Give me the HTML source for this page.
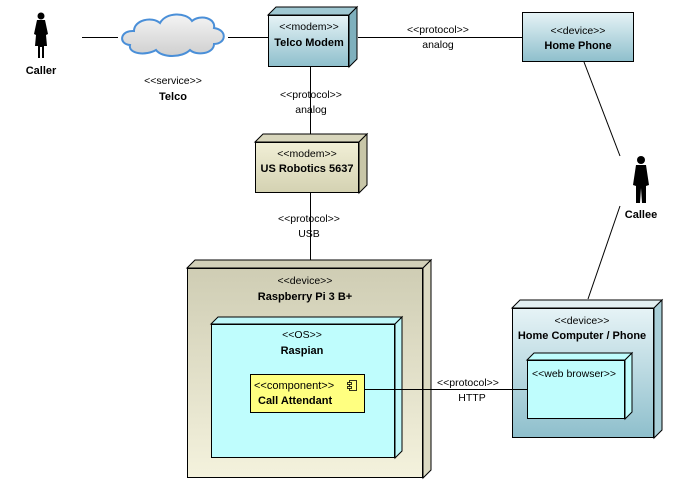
<!DOCTYPE html>
<html><head><meta charset="utf-8"><style>
html,body{margin:0;padding:0;background:#fff;}
svg{display:block;}
text{font-family:"Liberation Sans",Arial,sans-serif;font-size:10.5px;fill:#000;}
.b{font-weight:bold;font-size:11px;}
</style></head><body>
<svg width="686" height="482" viewBox="0 0 686 482" xmlns="http://www.w3.org/2000/svg">
<defs>
<linearGradient id="gBlue" x1="0" y1="0" x2="0" y2="1"><stop offset="0" stop-color="#e6f3f6"/><stop offset="1" stop-color="#8ebfcc"/></linearGradient>
<linearGradient id="gTan" x1="0" y1="0" x2="0" y2="1"><stop offset="0" stop-color="#cfcdb4"/><stop offset="1" stop-color="#f4f2dd"/></linearGradient>
<linearGradient id="gTan2" x1="0" y1="0" x2="0" y2="1"><stop offset="0" stop-color="#f1efd6"/><stop offset="1" stop-color="#d4d2b2"/></linearGradient>
<linearGradient id="gCloud" x1="0" y1="0" x2="0" y2="1"><stop offset="0" stop-color="#f4f4f4"/><stop offset="1" stop-color="#cfcfcf"/></linearGradient>
</defs>
<g stroke="#000" stroke-width="1" fill="none">
<line x1="82" y1="37.5" x2="118" y2="37.5"/>
<line x1="228" y1="37.5" x2="268" y2="37.5"/>
<line x1="358" y1="37.5" x2="522" y2="37.5"/>
<line x1="310.5" y1="67" x2="310.5" y2="141"/>
<line x1="310.5" y1="193" x2="310.5" y2="260"/>
<line x1="584" y1="62" x2="620" y2="156"/>
<line x1="620" y1="206" x2="588" y2="299"/>
</g>
<path d="M130,45 C118,44 120,30 134,31 C134,20 152,16 160,23 C166,12 186,12 192,21 C200,14 216,18 214,28 C228,30 226,44 214,44 C214,54 196,56 190,50 C182,58 162,58 156,50 C146,56 128,54 130,45 Z" fill="url(#gCloud)" stroke="#4a8fd8" stroke-width="2"/>
<text x="173" y="84" text-anchor="middle">&lt;&lt;service&gt;&gt;</text>
<text x="173" y="100" text-anchor="middle" class="b">Telco</text>
<g fill="#000">
<circle cx="41" cy="16" r="3.5"/>
<path d="M37,20 L45,20 L48,34 L46,35 L47,46 L44,46 L44,58 L42,58 L42,47 L40,47 L40,58 L38,58 L38,46 L35,46 L36,35 L34,34 Z"/>
</g>
<text x="41" y="74" text-anchor="middle" class="b">Caller</text>
<g fill="#000">
<circle cx="641" cy="160" r="4"/>
<path d="M636,165 L646,165 L649,185 L646,186 L646,203 L642,203 L641,188 L640,203 L636,203 L636,186 L633,185 Z"/>
</g>
<text x="641" y="218" text-anchor="middle" class="b">Callee</text>
<path d="M268,15 L276,7 L357,7 L349,15 Z" fill="#9fc8d2" stroke="#000"/>
<path d="M349,15 L357,7 L357,59 L349,67 Z" fill="#7fb0bd" stroke="#000"/>
<rect x="268.5" y="15.5" width="80" height="51" fill="url(#gBlue)" stroke="#000"/>
<text x="309" y="30" text-anchor="middle">&lt;&lt;modem&gt;&gt;</text>
<text x="309" y="46" text-anchor="middle" class="b">Telco Modem</text>
<text x="438" y="33" text-anchor="middle">&lt;&lt;protocol&gt;&gt;</text>
<text x="438" y="48" text-anchor="middle">analog</text>
<rect x="522.5" y="12.5" width="111" height="49" fill="url(#gBlue)" stroke="#000"/>
<text x="578" y="34" text-anchor="middle">&lt;&lt;device&gt;&gt;</text>
<text x="578" y="49" text-anchor="middle" class="b">Home Phone</text>
<text x="311" y="98" text-anchor="middle">&lt;&lt;protocol&gt;&gt;</text>
<text x="311" y="113" text-anchor="middle">analog</text>
<path d="M255,142 L263,134 L367,134 L359,142 Z" fill="#d8d6bc" stroke="#000"/>
<path d="M359,142 L367,134 L367,185 L359,193 Z" fill="#c8c6a8" stroke="#000"/>
<rect x="255.5" y="142.5" width="103" height="50" fill="url(#gTan2)" stroke="#000"/>
<text x="307" y="157" text-anchor="middle">&lt;&lt;modem&gt;&gt;</text>
<text x="307" y="172" text-anchor="middle" class="b">US Robotics 5637</text>
<text x="309" y="222" text-anchor="middle">&lt;&lt;protocol&gt;&gt;</text>
<text x="309" y="237" text-anchor="middle">USB</text>
<path d="M187,268 L195,260 L431,260 L423,268 Z" fill="#d2d0b8" stroke="#000"/>
<path d="M423,268 L431,260 L431,470 L423,478 Z" fill="#dcdac2" stroke="#000"/>
<rect x="187.5" y="268.5" width="235" height="209" fill="url(#gTan)" stroke="#000"/>
<text x="305" y="284" text-anchor="middle">&lt;&lt;device&gt;&gt;</text>
<text x="305" y="300" text-anchor="middle" class="b">Raspberry Pi 3 B+</text>
<path d="M211,324 L218,317 L402,317 L395,324 Z" fill="#bff8fa" stroke="#000"/>
<path d="M395,324 L402,317 L402,451 L395,458 Z" fill="#bff8fa" stroke="#000"/>
<rect x="211.5" y="324.5" width="183" height="133" fill="#bffdfd" stroke="#000"/>
<text x="302" y="338" text-anchor="middle">&lt;&lt;OS&gt;&gt;</text>
<text x="302" y="354" text-anchor="middle" class="b">Raspian</text>
<rect x="250.5" y="374.5" width="114" height="38" fill="#ffff80" stroke="#000"/>
<text x="254" y="389" style="font-size:11px">&lt;&lt;component&gt;&gt;</text>
<text x="258" y="404" class="b">Call Attendant</text>
<g fill="#ffff80" stroke="#000" stroke-width="0.8">
<rect x="349.5" y="380.5" width="7" height="10"/>
<rect x="347.5" y="382.5" width="4" height="2"/>
<rect x="347.5" y="386.5" width="4" height="2"/>
</g>
<text x="468" y="386" text-anchor="middle">&lt;&lt;protocol&gt;&gt;</text>
<text x="472" y="401" text-anchor="middle">HTTP</text>
<path d="M512,308 L520,300 L662,300 L654,308 Z" fill="#e2eff2" stroke="#000"/>
<path d="M654,308 L662,300 L662,430 L654,438 Z" fill="#a9cfd8" stroke="#000"/>
<rect x="512.5" y="308.5" width="141" height="129" fill="url(#gBlue)" stroke="#000"/>
<text x="582" y="324" text-anchor="middle">&lt;&lt;device&gt;&gt;</text>
<text x="582" y="339" text-anchor="middle" class="b">Home Computer / Phone</text>
<path d="M527,360 L534,353 L632,353 L625,360 Z" fill="#bffdfd" stroke="#000"/>
<path d="M625,360 L632,353 L632,412 L625,419 Z" fill="#bffdfd" stroke="#000"/>
<rect x="527.5" y="360.5" width="97" height="58" fill="#bffdfd" stroke="#000"/>
<text x="532" y="377">&lt;&lt;web browser&gt;&gt;</text>
<line x1="365" y1="389.5" x2="527" y2="389.5" stroke="#000" stroke-width="1"/>
</svg>
</body></html>
